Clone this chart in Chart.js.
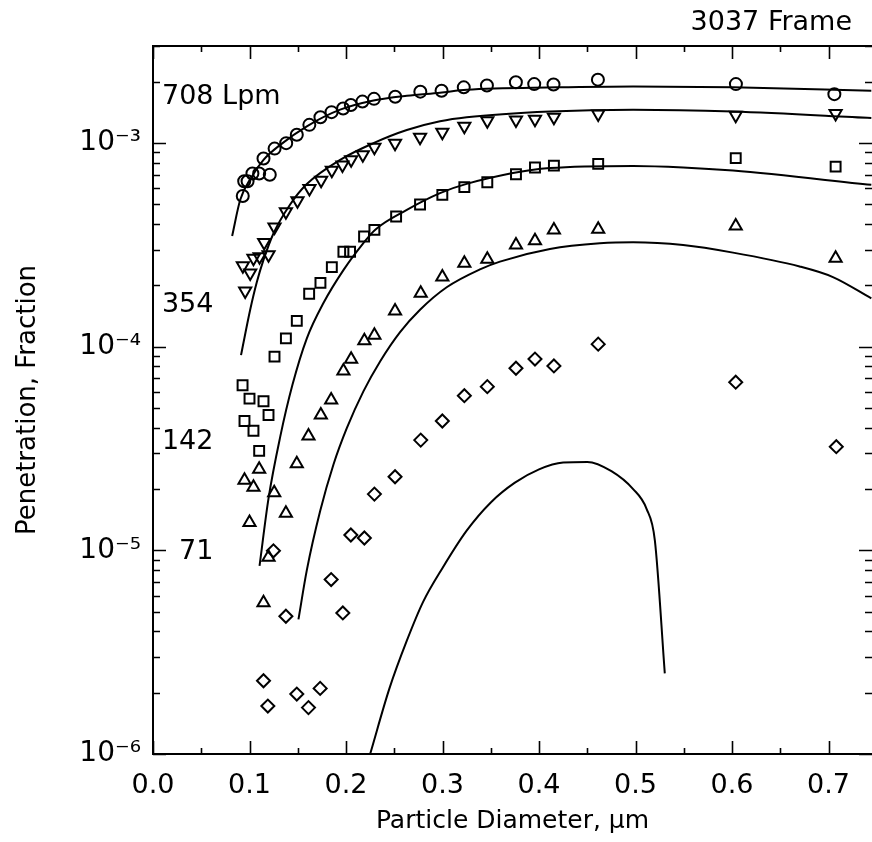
<!DOCTYPE html>
<html>
<head>
<meta charset="utf-8">
<script src="https://cdn.jsdelivr.net/npm/chart.js@4.4.1/dist/chart.umd.min.js"></script>
<style>
html,body{margin:0;padding:0;background:#fff;overflow:hidden;}
#wrap{width:872px;height:842px;}
canvas{display:block;}
</style>
</head>
<body>
<div id="wrap"><canvas id="c" width="872" height="842"></canvas></div>
<script>
// ---------- texts ----------
const chartTitle = '3037 Frame';
const xAxisTitle = 'Particle Diameter, \u03BCm';
const yAxisTitle = 'Penetration, Fraction';

// ---------- tick labels ----------
const xTickValues = [0.0, 0.1, 0.2, 0.3, 0.4, 0.5, 0.6, 0.7];
const yTickValues = [1e-6, 1e-5, 1e-4, 1e-3];
const yTickLabels = ['10\u207B\u2076', '10\u207B\u2075', '10\u207B\u2074', '10\u207B\u00B3'];

// ---------- measured points ----------
const circleX = [0.093, 0.0945, 0.098, 0.103, 0.110, 0.1145, 0.121, 0.126, 0.138, 0.149, 0.162, 0.1735, 0.185, 0.197, 0.205, 0.217, 0.229, 0.251, 0.277, 0.299, 0.322, 0.346, 0.376, 0.395, 0.415, 0.461, 0.604, 0.706];
const circleY = [5.5e-4, 6.5e-4, 6.5e-4, 7.1e-4, 7.1e-4, 8.4e-4, 7.0e-4, 9.4e-4, 1.0e-3, 1.1e-3, 1.23e-3, 1.34e-3, 1.42e-3, 1.48e-3, 1.54e-3, 1.60e-3, 1.65e-3, 1.69e-3, 1.79e-3, 1.81e-3, 1.88e-3, 1.92e-3, 1.99e-3, 1.95e-3, 1.94e-3, 2.05e-3, 1.95e-3, 1.74e-3];

const triDownX = [0.0931, 0.0955, 0.1007, 0.1041, 0.1104, 0.1152, 0.1197, 0.1259, 0.1377, 0.1497, 0.1621, 0.1742, 0.1853, 0.1963, 0.2053, 0.2174, 0.2294, 0.2508, 0.2767, 0.2998, 0.3226, 0.3464, 0.3761, 0.3958, 0.4154, 0.4613, 0.6038, 0.7073];
const triDownY = [2.5e-4, 1.88e-4, 2.3e-4, 2.72e-4, 2.77e-4, 3.25e-4, 2.83e-4, 3.87e-4, 4.61e-4, 5.22e-4, 5.98e-4, 6.58e-4, 7.37e-4, 7.82e-4, 8.28e-4, 8.76e-4, 9.55e-4, 1.0e-3, 1.07e-3, 1.13e-3, 1.21e-3, 1.29e-3, 1.30e-3, 1.31e-3, 1.34e-3, 1.39e-3, 1.37e-3, 1.40e-3];

const squareX = [0.0928, 0.0948, 0.1, 0.1041, 0.110, 0.1145, 0.1197, 0.1259, 0.1377, 0.149, 0.1618, 0.1735, 0.1853, 0.1973, 0.2042, 0.2187, 0.2294, 0.2519, 0.2767, 0.2998, 0.3226, 0.3464, 0.3761, 0.3958, 0.4154, 0.4613, 0.6038, 0.7073];
const squareY = [6.47e-5, 4.32e-5, 5.56e-5, 3.87e-5, 3.08e-5, 5.40e-5, 4.62e-5, 8.94e-5, 1.10e-4, 1.34e-4, 1.82e-4, 2.06e-4, 2.46e-4, 2.93e-4, 2.93e-4, 3.48e-4, 3.75e-4, 4.36e-4, 5.0e-4, 5.57e-4, 6.08e-4, 6.43e-4, 7.04e-4, 7.59e-4, 7.76e-4, 7.91e-4, 8.44e-4, 7.67e-4];

const triUpX = [0.0948, 0.1, 0.1041, 0.110, 0.1145, 0.1197, 0.1256, 0.1377, 0.149, 0.1611, 0.1739, 0.1846, 0.1973, 0.2053, 0.219, 0.2294, 0.2508, 0.2774, 0.2998, 0.3226, 0.3464, 0.3761, 0.3958, 0.4154, 0.4613, 0.6038, 0.7073];
const triUpY = [2.21e-5, 1.37e-5, 2.04e-5, 2.50e-5, 5.53e-6, 9.25e-6, 1.92e-5, 1.52e-5, 2.66e-5, 3.65e-5, 4.62e-5, 5.48e-5, 7.61e-5, 8.68e-5, 1.07e-4, 1.14e-4, 1.50e-4, 1.83e-4, 2.20e-4, 2.57e-4, 2.69e-4, 3.16e-4, 3.32e-4, 3.75e-4, 3.78e-4, 3.92e-4, 2.72e-4];

const diamondX = [0.1145, 0.119, 0.1248, 0.1377, 0.149, 0.1611, 0.1732, 0.1846, 0.1967, 0.205, 0.219, 0.2294, 0.2508, 0.2774, 0.2998, 0.3226, 0.3464, 0.3761, 0.3958, 0.4154, 0.4613, 0.6038, 0.708];
const diamondY = [2.29e-6, 1.72e-6, 9.95e-6, 4.75e-6, 1.97e-6, 1.69e-6, 2.10e-6, 7.19e-6, 4.93e-6, 1.19e-5, 1.15e-5, 1.89e-5, 2.30e-5, 3.48e-5, 4.32e-5, 5.75e-5, 6.37e-5, 7.84e-5, 8.70e-5, 8.05e-5, 1.03e-4, 6.70e-5, 3.23e-5];

// ---------- model curves ----------
const curve708X = [0.082, 0.0904, 0.1025, 0.1145, 0.1318, 0.1594, 0.1939, 0.2284, 0.263, 0.2974, 0.325, 0.4182, 0.4975, 0.6007, 0.7443];
const curve708Y = [3.5e-4, 5.27e-4, 6.86e-4, 8.28e-4, 9.81e-4, 1.21e-3, 1.46e-3, 1.62e-3, 1.71e-3, 1.77e-3, 1.83e-3, 1.88e-3, 1.90e-3, 1.88e-3, 1.81e-3];

const curve354X = [0.0912, 0.1007, 0.1076, 0.1145, 0.1248, 0.1421, 0.1594, 0.1939, 0.2284, 0.263, 0.2974, 0.325, 0.4113, 0.4975, 0.601, 0.7443];
const curve354Y = [9.1e-5, 1.52e-4, 2.08e-4, 2.67e-4, 3.6e-4, 5.0e-4, 6.3e-4, 8.28e-4, 1.0e-3, 1.16e-3, 1.28e-3, 1.34e-3, 1.43e-3, 1.46e-3, 1.43e-3, 1.33e-3];

const curve142X = [0.1104, 0.1197, 0.1318, 0.1445, 0.1594, 0.1766, 0.1973, 0.218, 0.23, 0.263, 0.2974, 0.325, 0.4113, 0.4975, 0.5493, 0.601, 0.7443];
const curve142Y = [8.4e-6, 1.8e-5, 3.61e-5, 6.5e-5, 1.1e-4, 1.64e-4, 2.38e-4, 3.23e-4, 3.75e-4, 4.7e-4, 5.68e-4, 6.31e-4, 7.54e-4, 7.73e-4, 7.6e-4, 7.33e-4, 6.24e-4];

const curve71X = [0.1507, 0.1594, 0.1732, 0.187, 0.2008, 0.218, 0.2353, 0.256, 0.2767, 0.3043, 0.3388, 0.3595, 0.4113, 0.463, 0.4975, 0.5493, 0.601, 0.670, 0.7045, 0.7443];
const curve71Y = [4.58e-6, 8.0e-6, 1.56e-5, 2.64e-5, 3.98e-5, 6.04e-5, 8.47e-5, 1.18e-4, 1.52e-4, 1.96e-4, 2.4e-4, 2.62e-4, 3.02e-4, 3.22e-4, 3.26e-4, 3.16e-4, 2.9e-4, 2.48e-4, 2.2e-4, 1.73e-4];

const curveLowX = [0.225, 0.245, 0.263, 0.28, 0.30, 0.325, 0.35, 0.375, 0.40, 0.425, 0.45, 0.475, 0.4975, 0.5114, 0.52, 0.5303];
const curveLowY = [1.0e-6, 2.1e-6, 3.6e-6, 5.6e-6, 8.2e-6, 1.25e-5, 1.72e-5, 2.15e-5, 2.5e-5, 2.7e-5, 2.72e-5, 2.45e-5, 2.0e-5, 1.6e-5, 1.12e-5, 2.49e-6];

// ---------- curve labels ----------
const curveLabels = ['708 Lpm', '354', '142', '71'];

// ---------- build ----------
const pts = (xs, ys) => xs.map((x, i) => ({x: x, y: ys[i]}));
const FONT = 'DejaVu Sans';
Chart.defaults.color = '#000';
Chart.defaults.font.family = FONT;

function markerSet(label, xs, ys, style, rot, r) {
  return {
    label: label, data: pts(xs, ys), showLine: false,
    pointStyle: style, rotation: rot, pointRadius: r, pointHoverRadius: r,
    pointBorderColor: '#000', pointBackgroundColor: 'rgba(0,0,0,0)', pointBorderWidth: 2
  };
}
function curveSet(label, xs, ys) {
  return {
    label: label, data: pts(xs, ys), showLine: true, pointRadius: 0, pointHoverRadius: 0,
    borderColor: '#000', borderWidth: 2, cubicInterpolationMode: 'monotone', fill: false
  };
}

const decor = {
  id: 'decor',
  afterDatasetsDraw(chart) {
    const {ctx, chartArea: a, scales: {x, y}} = chart;
    ctx.save();
    ctx.strokeStyle = '#000';
    ctx.lineWidth = 2;
    ctx.beginPath();
    ctx.moveTo(a.right, a.top); ctx.lineTo(a.left, a.top); ctx.lineTo(a.left, a.bottom); ctx.lineTo(a.right, a.bottom);
    ctx.stroke();
    ctx.lineWidth = 1.6;
    ctx.beginPath();
    for (let k = 0; k <= 14; k++) {
      const v = k * 0.05;
      const px = Math.round(x.getPixelForValue(v)) + 0.5;
      const len = (k % 2 === 0) ? 13 : 6;
      ctx.moveTo(px, a.bottom); ctx.lineTo(px, a.bottom - len);
      ctx.moveTo(px, a.top); ctx.lineTo(px, a.top + len);
    }
    for (let e = -6; e <= -3; e++) {
      for (let m = 1; m <= 9; m++) {
        const v = m * Math.pow(10, e);
        if (v > y.max) break;
        const py = Math.round(y.getPixelForValue(v)) + 0.5;
        const len = (m === 1) ? 13 : 7;
        ctx.moveTo(a.left, py); ctx.lineTo(a.left + len, py);
        ctx.moveTo(a.right, py); ctx.lineTo(a.right - len, py);
      }
    }
    ctx.stroke();
    ctx.fillStyle = '#000';
    ctx.textBaseline = 'middle';
    ctx.font = '27px "' + FONT + '"';
    ctx.textAlign = 'right';
    ctx.fillText(chartTitle, chart.width - 20, 23);
    ctx.textAlign = 'left';
    ctx.fillText(curveLabels[0], x.getPixelForValue(0.0093), y.getPixelForValue(1.68e-3));
    ctx.textAlign = 'right';
    ctx.fillText(curveLabels[1], x.getPixelForValue(0.0626), y.getPixelForValue(1.60e-4));
    ctx.fillText(curveLabels[2], x.getPixelForValue(0.0626), y.getPixelForValue(3.42e-5));
    ctx.fillText(curveLabels[3], x.getPixelForValue(0.0626), y.getPixelForValue(9.82e-6));
    ctx.restore();
  }
};

new Chart(document.getElementById('c'), {
  type: 'scatter',
  data: {
    datasets: [
      curveSet('708 Lpm model', curve708X, curve708Y),
      curveSet('354 Lpm model', curve354X, curve354Y),
      curveSet('142 Lpm model', curve142X, curve142Y),
      curveSet('71 Lpm model', curve71X, curve71Y),
      curveSet('lowest model', curveLowX, curveLowY),
      markerSet('708 Lpm', circleX, circleY, 'circle', 0, 6),
      markerSet('354 Lpm', triDownX, triDownY, 'triangle', 180, 7),
      markerSet('142 Lpm', squareX, squareY, 'rect', 0, 7),
      markerSet('71 Lpm', triUpX, triUpY, 'triangle', 0, 7),
      markerSet('diamonds', diamondX, diamondY, 'rectRot', 0, 6.5)
    ]
  },
  options: {
    responsive: false,
    animation: false,
    devicePixelRatio: 1,
    layout: {autoPadding: false, padding: {top: 46, right: 0, left: 0, bottom: 0}},
    plugins: {legend: {display: false}, tooltip: {enabled: false}, title: {display: false}},
    scales: {
      x: {
        type: 'linear', min: 0, max: 0.745,
        afterBuildTicks: s => { s.ticks = xTickValues.map(v => ({value: v})); },
        afterFit: s => { s.height = 88; s.paddingLeft = 0; s.paddingRight = 0; },
        grid: {display: false, drawTicks: false},
        border: {display: false},
        ticks: {padding: 16, autoSkip: false, maxRotation: 0, font: {family: FONT, size: 27}, color: '#000',
                callback: v => v.toFixed(1)},
        title: {display: true, text: xAxisTitle, color: '#000', font: {family: FONT, size: 25}, padding: {top: 0, bottom: 6}}
      },
      y: {
        type: 'logarithmic', min: 1e-6, max: 3.0e-3,
        afterBuildTicks: s => { s.ticks = yTickValues.map(v => ({value: v})); },
        afterFit: s => { s.width = 153; s.paddingTop = 0; s.paddingBottom = 0; },
        grid: {display: false, drawTicks: false},
        border: {display: false},
        ticks: {padding: 12, autoSkip: false, font: {family: FONT, size: 28}, color: '#000',
                callback: (v, i) => yTickLabels[i]},
        title: {display: true, text: yAxisTitle, color: '#000', font: {family: FONT, size: 26}, padding: {top: 13, bottom: 0}}
      }
    }
  },
  plugins: [decor]
});
</script>
</body>
</html>
